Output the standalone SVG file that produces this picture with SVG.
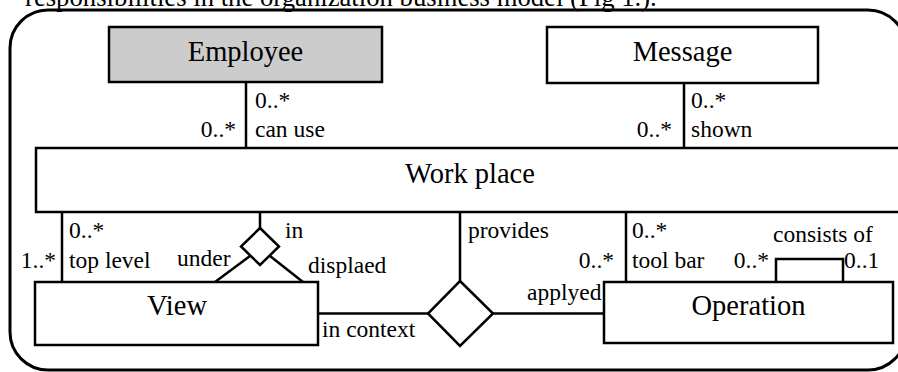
<svg xmlns="http://www.w3.org/2000/svg" width="898" height="372" viewBox="0 0 898 372">
<style>
.box{fill:#fff;stroke:#000;stroke-width:2.5}
.gray{fill:#cccccc}
.ln{fill:none;stroke:#000;stroke-width:2.5}
text{font-family:'Liberation Serif','Times New Roman',Times,serif;fill:#000}
.big{font-size:28.5px}
.sm{font-size:23.5px}
.e{text-anchor:end}
.m{text-anchor:middle}
</style>
<rect width="898" height="372" fill="#fff"/>
<text x="25" y="6" font-size="26.7" font-family="Liberation Serif, serif">responsibilities in the organization business model (Fig 1.).</text>
<rect id="frame" x="10" y="10" width="896" height="360" rx="38" ry="38" fill="none" stroke="#000" stroke-width="3"/>
<g id="connectors">
<line class="ln" x1="246" y1="82" x2="246" y2="148"/>
<line class="ln" x1="684" y1="83" x2="684" y2="148"/>
<line class="ln" x1="62" y1="212" x2="62" y2="282"/>
<line class="ln" x1="626" y1="212" x2="626" y2="282"/>
<line class="ln" x1="260" y1="212" x2="260" y2="228"/>
<polygon class="ln" points="260,228 279,246.5 260,265 241,246.5"/>
<line class="ln" x1="250" y1="256" x2="215" y2="282"/>
<line class="ln" x1="270" y1="256" x2="303" y2="282"/>
<line class="ln" x1="460" y1="212" x2="460" y2="281"/>
<polygon class="ln" points="460,281 493,313.5 460,346 428,313.5"/>
<line class="ln" x1="318" y1="313.5" x2="428" y2="313.5"/>
<line class="ln" x1="493" y1="313.5" x2="604" y2="313.5"/>
<polyline class="ln" points="776,282 776,259 843,259 843,282"/>
</g>
<g id="employee">
<rect class="box gray" x="109" y="27" width="273" height="55"/>
<text class="big m" x="245.5" y="61" font-family="Liberation Serif, serif">Employee</text>
</g>
<g id="message">
<rect class="box" x="547" y="27" width="271" height="56"/>
<text class="big m" x="682.5" y="61" font-family="Liberation Serif, serif">Message</text>
</g>
<g id="workplace">
<rect class="box" x="36" y="148" width="880" height="64"/>
<text class="big m" x="470" y="183" font-family="Liberation Serif, serif">Work place</text>
</g>
<g id="view">
<rect class="box" x="35" y="282" width="283" height="63"/>
<text class="big m" x="177" y="315" font-family="Liberation Serif, serif">View</text>
</g>
<g id="operation">
<rect class="box" x="604" y="282" width="289" height="61"/>
<text class="big m" x="748.5" y="315" font-family="Liberation Serif, serif">Operation</text>
</g>
<g id="labels" font-family="Liberation Serif, serif">
<text class="sm" x="255" y="108">0..*</text>
<text class="sm e" x="236" y="137">0..*</text>
<text class="sm" x="255" y="137">can use</text>
<text class="sm" x="691" y="108">0..*</text>
<text class="sm e" x="672" y="137">0..*</text>
<text class="sm" x="691" y="137">shown</text>
<text class="sm" x="69" y="238">0..*</text>
<text class="sm e" x="56" y="268">1..*</text>
<text class="sm" x="69" y="268">top level</text>
<text class="sm" x="177" y="266">under</text>
<text class="sm" x="285" y="238">in</text>
<text class="sm" x="308" y="273">displaed</text>
<text class="sm" x="322" y="337">in context</text>
<text class="sm" x="468" y="238">provides</text>
<text class="sm e" x="614" y="268">0..*</text>
<text class="sm" x="527" y="300">applyed</text>
<text class="sm" x="632" y="238">0..*</text>
<text class="sm" x="632" y="268">tool bar</text>
<text class="sm e" x="769" y="268">0..*</text>
<text class="sm" x="773" y="242">consists of</text>
<text class="sm" x="844" y="268">0..1</text>
</g>
</svg>
